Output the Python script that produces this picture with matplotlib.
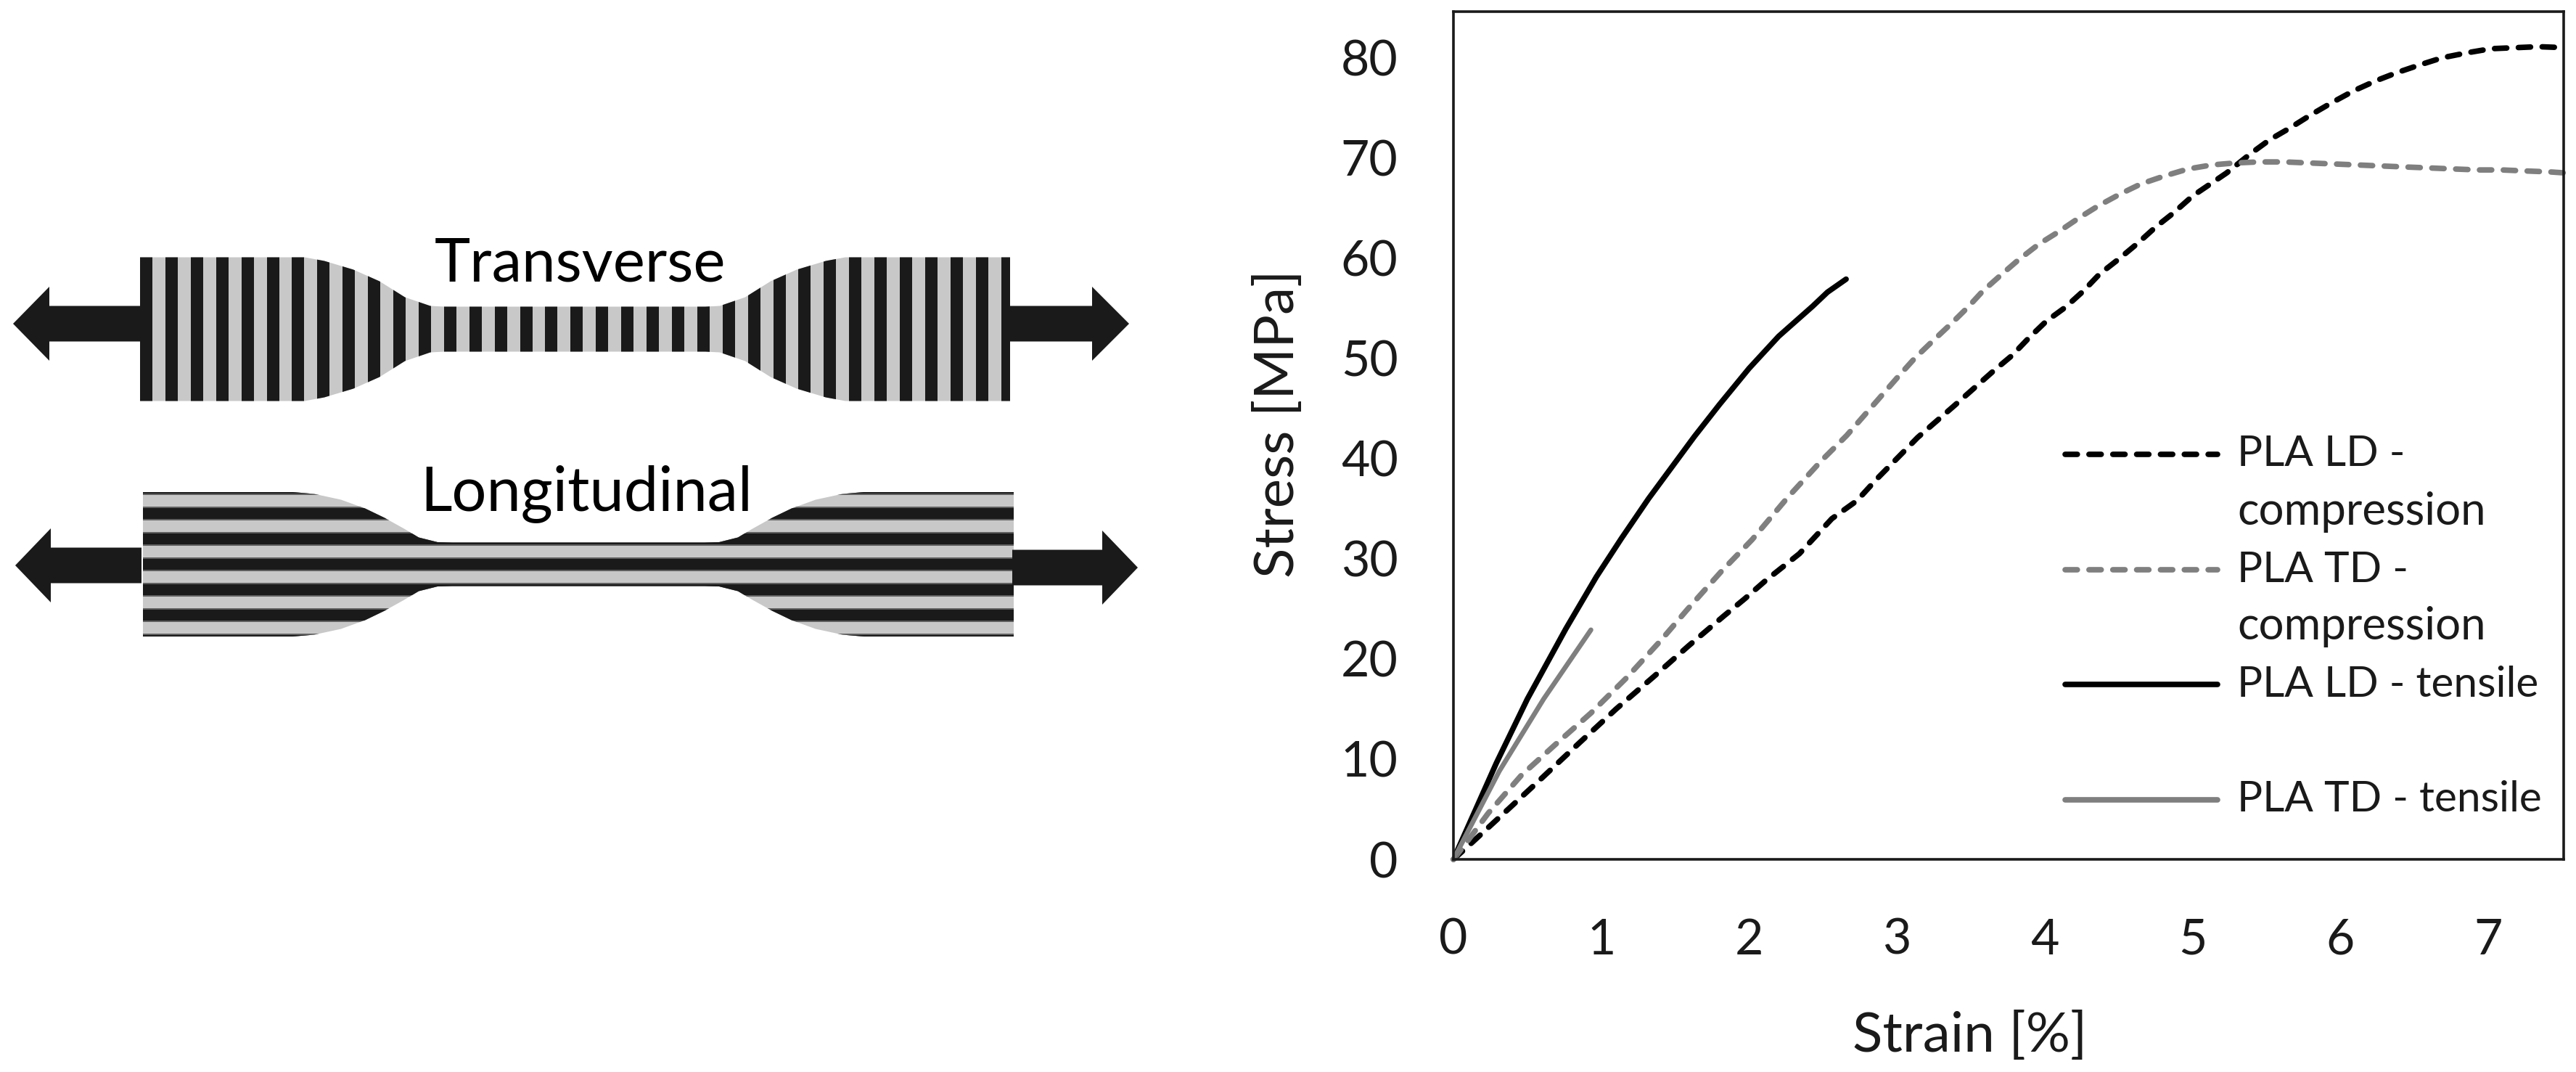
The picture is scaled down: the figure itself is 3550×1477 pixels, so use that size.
# Stress-strain curves for PLA with a sketch of the two print directions
import numpy as np
import matplotlib
matplotlib.use('Agg')
import matplotlib.pyplot as plt
from matplotlib.patches import Polygon, Rectangle

plt.rcParams['font.family'] = ['Lato', 'DejaVu Sans']

# Curves (strain %, stress MPa)
ld_comp_x = [0, 0.12, 0.385, 0.59, 0.85, 1.10, 1.36, 1.59, 1.83, 1.97, 2.11, 2.34, 2.56, 2.73, 2.86, 3.14, 3.39,
             3.65, 3.78, 3.89, 4.01, 4.14, 4.26, 4.37, 4.50, 4.63, 4.75, 4.87, 5.0, 5.12, 5.23, 5.39, 5.52, 5.66,
             5.80, 5.94, 6.09, 6.24, 6.38, 6.54, 6.69, 6.86, 7.02, 7.18, 7.34, 7.52]
ld_comp_y = [0, 1.6, 5.2, 8.0, 11.6, 15.0, 18.3, 21.3, 24.3, 26.0, 27.8, 30.5, 34.0, 35.8, 37.9, 42.1, 45.3,
             48.7, 50.3, 52.0, 53.7, 55.1, 56.7, 58.4, 59.9, 61.5, 63.1, 64.5, 66.2, 67.4, 68.5, 70.4, 71.8, 73.0,
             74.3, 75.5, 76.7, 77.7, 78.5, 79.3, 80.0, 80.5, 80.9, 81.0, 81.1, 81.0]
td_comp_x = [0, 0.084, 0.235, 0.46, 0.685, 0.93, 1.17, 1.40, 1.586, 1.81, 2.02, 2.26, 2.49, 2.66, 3.01, 3.12, 3.24,
             3.37, 3.48, 3.58, 3.71, 3.82, 3.96, 4.09, 4.23, 4.36, 4.51, 4.65, 4.81, 4.97, 5.13, 5.29, 5.45, 5.62,
             5.78, 5.95, 6.11, 6.27, 6.43, 6.60, 6.76, 6.93, 7.09, 7.25, 7.42, 7.52]
td_comp_y = [0, 1.6, 4.6, 8.4, 11.4, 14.6, 18.1, 21.8, 25.0, 28.7, 31.9, 36.1, 39.8, 42.3, 48.2, 50.0, 51.7,
             53.5, 55.1, 56.7, 58.4, 59.8, 61.4, 62.6, 64.0, 65.2, 66.4, 67.4, 68.2, 68.9, 69.3, 69.5, 69.6, 69.6,
             69.5, 69.4, 69.3, 69.2, 69.1, 69.0, 68.9, 68.8, 68.8, 68.7, 68.6, 68.5]
ld_tens_x = [0, 0.29, 0.50, 0.76, 0.967, 1.135, 1.32, 1.55, 1.63, 1.8, 2.0, 2.2, 2.43, 2.53, 2.656]
ld_tens_y = [0, 9.6, 16.0, 23.0, 28.2, 32.0, 36.0, 40.6, 42.2, 45.4, 49.0, 52.2, 55.2, 56.6, 57.9]
td_tens_x = [0, 0.31, 0.61, 0.93]
td_tens_y = [0, 8.8, 16.0, 22.9]

x_ticks = [0, 1, 2, 3, 4, 5, 6, 7]
y_ticks = [0, 10, 20, 30, 40, 50, 60, 70, 80]

legend_labels = ['PLA LD -\ncompression', 'PLA TD -\ncompression', 'PLA LD - tensile', 'PLA TD - tensile']
legend_colors = ['black', '#7f7f7f', 'black', '#7f7f7f']
legend_dashed = [True, True, False, False]
legend_rows = [626, 785, 943, 1102]

# Sketch outline: distance from specimen end, half height (image pixels)
trans_x = [227, 254, 294, 330, 365, 400, 420]
trans_h = [99, 94, 82, 66, 44, 32, 31]
long_x = [206, 236, 273, 306, 333, 360, 380, 406, 426]
long_h = [99.5, 97, 89, 77, 64, 49, 37, 30.5, 30]

dark = '#1a1a1a'
light = '#c8c8c8'
dash = (0, (2.2, 2.1))

fig = plt.figure(figsize=(35.5, 14.77), dpi=100)
ax = fig.add_axes([2003 / 3550, (1477 - 1184) / 1477, (3533 - 2003) / 3550, (1184 - 16) / 1477])

ax.plot(ld_comp_x, ld_comp_y, color='black', lw=5.5, ls=dash, dash_capstyle='round', clip_on=False)
ax.plot(td_comp_x, td_comp_y, color='#7f7f7f', lw=5.5, ls=dash, dash_capstyle='round', clip_on=False)
ax.plot(ld_tens_x, ld_tens_y, color='black', lw=5.5, solid_capstyle='round')
ax.plot(td_tens_x, td_tens_y, color='#7f7f7f', lw=4.8, solid_capstyle='round')

ax.set_xlim(0, 7.51)
ax.set_ylim(0, 84.6)
ax.set_xticks(x_ticks)
ax.set_yticks(y_ticks)
ax.tick_params(length=0, labelsize=49, colors='#1a1a1a')
ax.tick_params(axis='x', pad=58)
ax.tick_params(axis='y', pad=55)
for s in ax.spines.values():
    s.set_linewidth(2.6)
    s.set_color('#1a1a1a')

# overlay in image pixels for the sketch, legend and axis titles
ov = fig.add_axes([0, 0, 1, 1])
ov.set_xlim(0, 3550)
ov.set_ylim(1477, 0)
ov.axis('off')
ov.patch.set_alpha(0)

ov.text(2715, 1428, 'Strain [%]', fontsize=55, ha='center', va='center', color='#1a1a1a')
ov.text(1762, 584, 'Stress [MPa]', fontsize=55, ha='center', va='center', rotation=90, color='#1a1a1a')

for label, col, dashed, row in zip(legend_labels, legend_colors, legend_dashed, legend_rows):
    if dashed:
        ov.plot([2846, 3056], [row, row], color=col, ls=dash, lw=5.5, dash_capstyle='round')
    else:
        ov.plot([2846, 3056], [row, row], color=col, lw=5.5, solid_capstyle='round')
    for i, part in enumerate(label.split('\n')):
        # the PLA lines run a little narrower than the word compression
        size = 44.5 if part == 'compression' else 42.2
        ov.text(3083, row + i * 79, part, fontsize=size, va='center', color='#1a1a1a')


def specimen(x0, x1, yc, xs, hs):
    xs = np.array(xs)
    hs = np.array(hs)
    top = [(x0, yc - hs[0])] + [(x0 + a, yc - b) for a, b in zip(xs, hs)] + \
          [(x1 - a, yc - b) for a, b in zip(xs[::-1], hs[::-1])] + [(x1, yc - hs[0])]
    bot = [(a, 2 * yc - b) for a, b in top[::-1]]
    return Polygon(top + bot, closed=True, transform=ov.transData, fc='none', ec='none')


def arrow(x_base, x_head, x_tip, yc, half_shaft=24.5, half_head=51):
    pts = [(x_base, yc - half_shaft), (x_head, yc - half_shaft), (x_head, yc - half_head), (x_tip, yc),
           (x_head, yc + half_head), (x_head, yc + half_shaft), (x_base, yc + half_shaft)]
    ov.add_patch(Polygon(pts, closed=True, fc=dark, ec='none'))


# Transverse specimen, vertical stripes
clip = specimen(193, 1392, 453.5, trans_x, trans_h)
ov.add_patch(clip)
bg = Rectangle((193, 354), 1199, 199, fc=light, ec='none')
ov.add_patch(bg)
bg.set_clip_path(clip)
for x in np.arange(193, 1392, 34.9):
    r = Rectangle((x, 354), 17, 199, fc=dark, ec='none')
    ov.add_patch(r)
    r.set_clip_path(clip)

# Longitudinal specimen, horizontal stripes with a grey edge on each dark band
clip2 = specimen(197, 1397, 777.5, long_x, long_h)
ov.add_patch(clip2)
bg = Rectangle((197, 678), 1200, 199, fc=light, ec='none')
ov.add_patch(bg)
bg.set_clip_path(clip2)
for y in 777.5 + 35 * np.arange(-3, 4):
    edge = Rectangle((197, y - 9.5), 1200, 19, fc='#5f5f5f', ec='none')
    ov.add_patch(edge)
    edge.set_clip_path(clip2)
    r = Rectangle((197, y - 7.5), 1200, 15, fc=dark, ec='none')
    ov.add_patch(r)
    r.set_clip_path(clip2)

arrow(193, 68, 18, 446)
arrow(1392, 1505, 1556, 446)
arrow(195, 70, 21, 779)
arrow(1395, 1519, 1568, 782)

ov.text(799, 387, 'Transverse', fontsize=60, ha='center', va='baseline', color='black')
ov.text(808, 703, 'Longitudinal', fontsize=61, ha='center', va='baseline', color='black')

fig.savefig('out.png', dpi=100)
